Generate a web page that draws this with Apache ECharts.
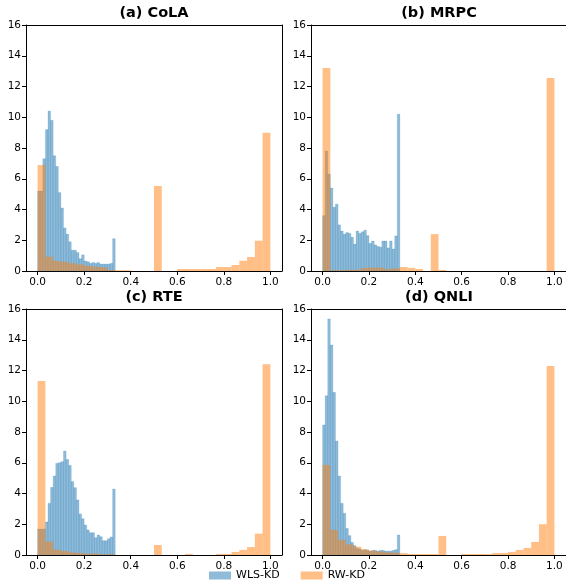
<!DOCTYPE html>
<html><head><meta charset="utf-8">
<script src="https://cdn.jsdelivr.net/npm/echarts@6/dist/echarts.min.js"></script>
<style>html,body{margin:0;padding:0;background:#fff}#c{width:566px;height:581px}</style>
</head><body><div id="c"></div>
<script>
// ---------------- data ----------------
const panelTitles = ['(a) CoLA', '(b) MRPC', '(c) RTE', '(d) QNLI'];
const seriesNames = ['WLS-KD', 'RW-KD'];
const wlsRange = [0, 1 / 3];   // WLS-KD histogram range (30 bins)
const rwRange = [0, 1];        // RW-KD histogram range (30 bins)
const xTickValues = [0, 0.2, 0.4, 0.6, 0.8, 1.0];
const yMin = 0, yMax = 16, yStep = 2;

// density values per bin
const wlsCoLA = [5.2, 5.2, 7.3, 9.2, 10.4, 9.8, 7.5, 6.8, 5.1, 4.1,
                 2.8, 2.4, 1.9, 1.35, 1.35, 1.2, 0.8, 1.05, 0.65, 0.6,
                 0.5, 0.55, 0.5, 0.55, 0.45, 0.45, 0.45, 0.45, 0.5, 2.1];
const rwCoLA  = [6.9, 0.93, 0.65, 0.6, 0.5, 0.43, 0.33, 0.28, 0.24, 0.07,
                 0.05, 0.05, 0, 0, 0, 5.53, 0, 0, 0.13, 0.13,
                 0.13, 0.13, 0.13, 0.26, 0.26, 0.39, 0.67, 0.91, 1.97, 9.0];

const wlsMRPC = [3.6, 7.8, 6.3, 5.4, 4.15, 4.35, 3.0, 2.6, 2.4, 2.5,
                 2.45, 2.2, 1.75, 2.6, 2.45, 2.55, 2.65, 2.3, 1.8, 1.95,
                 1.7, 1.6, 1.55, 1.95, 1.95, 1.5, 1.95, 1.43, 2.28, 10.2];
const rwMRPC  = [13.2, 0.05, 0.05, 0.08, 0.08, 0.2, 0.22, 0.22, 0.12, 0.17,
                 0.26, 0.2, 0.13, 0, 2.4, 0.07, 0, 0, 0, 0,
                 0, 0, 0, 0, 0, 0, 0, 0, 0, 12.55];

const wlsRTE  = [1.69, 1.69, 1.69, 2.15, 3.36, 4.4, 5.14, 5.96, 6.0, 6.07,
                 6.76, 6.22, 5.83, 4.77, 4.38, 3.58, 2.67, 2.36, 1.95, 1.63,
                 1.45, 1.45, 1.13, 1.3, 1.19, 0.93, 0.93, 1.06, 1.17, 4.29];
const rwRTE   = [11.32, 0.87, 0.35, 0.26, 0.17, 0.13, 0.09, 0.09, 0.05, 0.05,
                 0, 0, 0, 0, 0, 0.65, 0, 0, 0, 0.07,
                 0, 0, 0, 0.07, 0.07, 0.2, 0.33, 0.52, 1.39, 12.4];

const wlsQNLI = [8.46, 10.36, 15.35, 13.66, 10.58, 7.41, 5.14, 3.36, 2.71, 1.73,
                 1.26, 0.82, 0.61, 0.43, 0.39, 0.3, 0.35, 0.3, 0.25, 0.3,
                 0.3, 0.25, 0.3, 0.3, 0.25, 0.25, 0.25, 0.3, 0.35, 1.3];
const rwQNLI  = [5.85, 1.63, 0.98, 0.69, 0.54, 0.37, 0.28, 0.22, 0.17, 0.15,
                 0.12, 0.065, 0.065, 0.065, 0.065, 1.24, 0, 0, 0.065, 0.065,
                 0.065, 0.065, 0.13, 0.13, 0.2, 0.33, 0.46, 0.85, 2.0, 12.3];

const wlsAll = [wlsCoLA, wlsMRPC, wlsRTE, wlsQNLI];
const rwAll  = [rwCoLA, rwMRPC, rwRTE, rwQNLI];

// ---------------- layout / style ----------------
const gridPos = [
  {left: 26, top: 25}, {left: 311, top: 25},
  {left: 26, top: 309}, {left: 311, top: 309}
];
const gridW = 256, gridH = 246;
const colors = ['#1f77b4', '#ff7f0e'];
const FONT = 'DejaVu Sans';

function toBins(vals, range) {
  const w = (range[1] - range[0]) / vals.length;
  return vals.map((h, i) => [range[0] + i * w, range[0] + (i + 1) * w, h]);
}
function renderBar(color, edge) {
  return function (params, api) {
    const a = api.coord([api.value(0), 0]);
    const b = api.coord([api.value(1), api.value(2)]);
    return {
      type: 'rect',
      shape: {x: a[0], y: b[1], width: b[0] - a[0], height: a[1] - b[1]},
      style: {fill: color, opacity: 0.5, stroke: edge ? color : null, lineWidth: edge ? 0.35 : 0}
    };
  };
}

const grid = [], xAxis = [], yAxis = [], series = [], title = [];
gridPos.forEach((g, i) => {
  grid.push({left: g.left, top: g.top, width: gridW, height: gridH});
  title.push({
    text: panelTitles[i], left: g.left + gridW / 2, top: g.top - 19, textAlign: 'center', padding: 0,
    textStyle: {fontFamily: FONT, fontWeight: 'bold', fontSize: 14.5, color: '#000'}
  });
  xAxis.push({
    gridIndex: i, type: 'value', min: -0.05, max: 1.05, position: 'bottom',
    splitLine: {show: false},
    axisLine: {show: true, onZero: false, lineStyle: {color: '#000', width: 1}},
    axisTick: {show: true, customValues: xTickValues, length: 4, lineStyle: {color: '#000'}},
    axisLabel: {customValues: xTickValues, formatter: v => v.toFixed(1), fontFamily: FONT,
                fontSize: 10.5, color: '#000', margin: 6}
  });
  yAxis.push({
    gridIndex: i, type: 'value', min: yMin, max: yMax, interval: yStep, position: 'left',
    splitLine: {show: false},
    axisLine: {show: true, onZero: false, lineStyle: {color: '#000', width: 1}},
    axisTick: {show: true, length: 4, lineStyle: {color: '#000'}},
    axisLabel: {fontFamily: FONT, fontSize: 10.5, color: '#000', margin: 5}
  });
  xAxis.push({
    gridIndex: i, type: 'value', min: -0.05, max: 1.05, position: 'top',
    splitLine: {show: false}, axisTick: {show: false}, axisLabel: {show: false},
    axisLine: {show: true, onZero: false, lineStyle: {color: '#000', width: 1}}
  });
  yAxis.push({
    gridIndex: i, type: 'value', min: yMin, max: yMax, position: 'right',
    splitLine: {show: false}, axisTick: {show: false}, axisLabel: {show: false},
    axisLine: {show: true, onZero: false, lineStyle: {color: '#000', width: 1}}
  });
  const xi = i * 2, yi = i * 2;
  series.push({
    name: seriesNames[0], type: 'custom', xAxisIndex: xi, yAxisIndex: yi,
    renderItem: renderBar(colors[0], true), encode: {x: [0, 1], y: 2},
    itemStyle: {color: '#8fbbd9'}, data: toBins(wlsAll[i], wlsRange), silent: true
  });
  series.push({
    name: seriesNames[1], type: 'custom', xAxisIndex: xi, yAxisIndex: yi,
    renderItem: renderBar(colors[1], false), encode: {x: [0, 1], y: 2},
    itemStyle: {color: '#ffbf86'}, data: toBins(rwAll[i], rwRange), silent: true
  });
});

const chart = echarts.init(document.getElementById('c'), null, {renderer: 'canvas'});
chart.setOption({
  animation: false,
  backgroundColor: '#fff',
  textStyle: {fontFamily: FONT},
  title: title,
  grid: grid, xAxis: xAxis, yAxis: yAxis, series: series,
  legend: {
    data: [
      {name: seriesNames[0], icon: 'rect', itemStyle: {color: '#8fbbd9'}},
      {name: seriesNames[1], icon: 'rect', itemStyle: {color: '#ffbf86'}}
    ],
    left: 209, top: 570, padding: 0, itemWidth: 22, itemHeight: 8, itemGap: 21,
    textStyle: {fontFamily: FONT, fontSize: 11, color: '#000'}
  }
});
</script>
</body></html>
